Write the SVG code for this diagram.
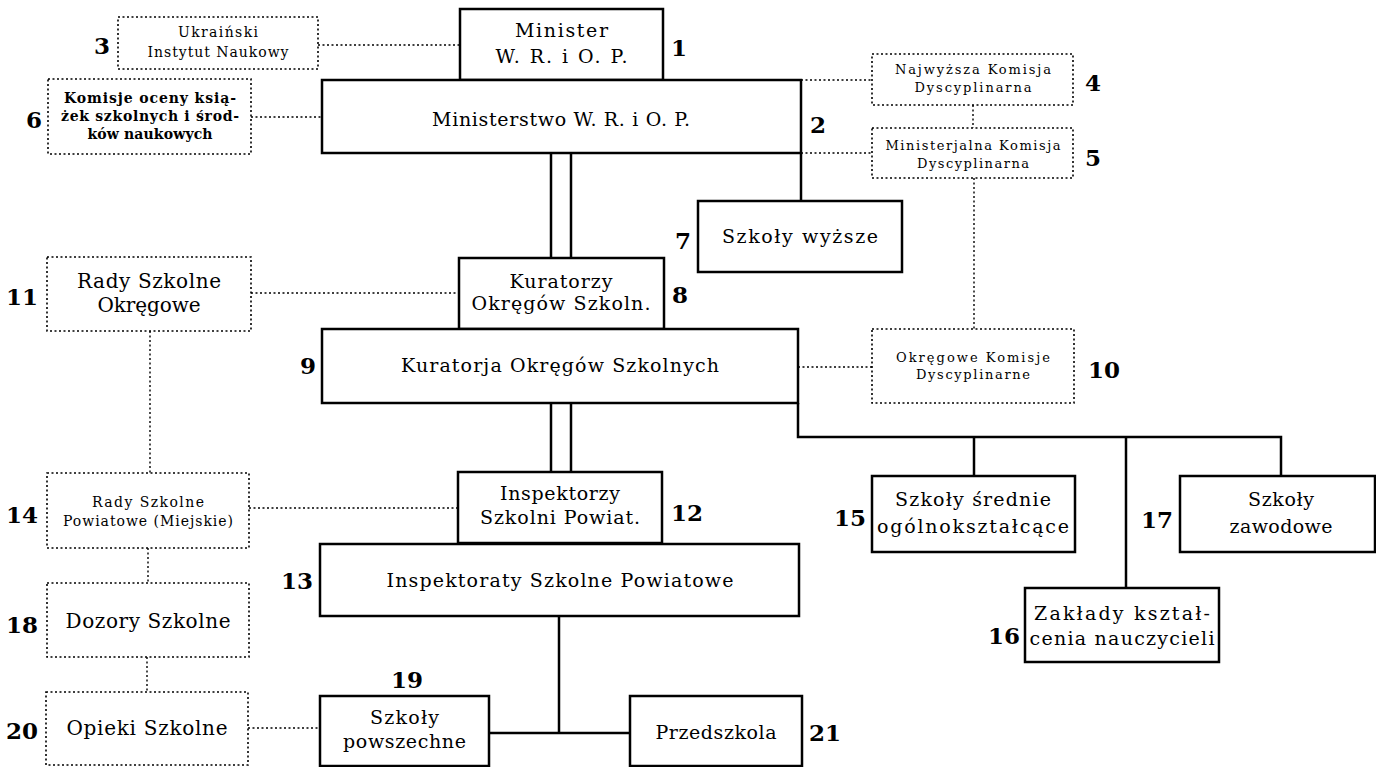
<svg xmlns="http://www.w3.org/2000/svg" width="1376" height="767" viewBox="0 0 1376 767">
<style>
.box{fill:#fff;stroke:#000;stroke-width:2.5}
.dbox{fill:#fff;stroke:#000;stroke-width:1.6;stroke-dasharray:2 2.5}
.ln{stroke:#000;stroke-width:2.5;fill:none}
.dl{stroke:#000;stroke-width:1.4;stroke-dasharray:2 2.5;fill:none}
text{font-family:"DejaVu Serif","Liberation Serif",serif;fill:#000;text-anchor:middle}
.t{font-size:19px}
.m{font-size:20px}
.s{font-size:14px}
.xs{font-size:13px}
.b{font-weight:bold}
.num{font-size:23px;font-weight:bold}
.l{text-anchor:end}
.r{text-anchor:start}
</style>
<rect width="1376" height="767" fill="#fff"/>
<g id="connectors">
<line class="ln" x1="551" y1="153" x2="551" y2="258"/>
<line class="ln" x1="571" y1="153" x2="571" y2="258"/>
<line class="ln" x1="551" y1="403" x2="551" y2="472"/>
<line class="ln" x1="571" y1="403" x2="571" y2="472"/>
<line class="ln" x1="801" y1="153" x2="801" y2="201"/>
<polyline class="ln" points="798,403 798,437 1281,437 1281,476"/>
<line class="ln" x1="974" y1="437" x2="974" y2="476"/>
<line class="ln" x1="1126" y1="437" x2="1126" y2="588"/>
<line class="ln" x1="559" y1="616" x2="559" y2="733"/>
<line class="ln" x1="489" y1="733" x2="630" y2="733"/>
<line class="dl" x1="318" y1="45" x2="460" y2="45"/>
<line class="dl" x1="251" y1="117" x2="322" y2="117"/>
<line class="dl" x1="801" y1="80" x2="872" y2="80"/>
<line class="dl" x1="801" y1="153" x2="872" y2="153"/>
<line class="dl" x1="973" y1="105" x2="973" y2="128"/>
<line class="dl" x1="974" y1="178" x2="974" y2="329"/>
<line class="dl" x1="798" y1="367" x2="872" y2="367"/>
<line class="dl" x1="251" y1="293" x2="459" y2="293"/>
<line class="dl" x1="150" y1="331" x2="150" y2="473"/>
<line class="dl" x1="249" y1="508" x2="458" y2="508"/>
<line class="dl" x1="148" y1="548" x2="148" y2="583"/>
<line class="dl" x1="147" y1="657" x2="147" y2="692"/>
<line class="dl" x1="248" y1="728" x2="320" y2="728"/>
</g>
<g id="n1">
<rect class="box" x="460" y="9" width="203" height="71"/>
<text class="t" x="561.5" y="37" textLength="93" lengthAdjust="spacing">Minister</text>
<text class="t" x="561.5" y="63" textLength="132" lengthAdjust="spacing">W. R. i O. P.</text>
<text class="num r" x="671" y="56">1</text>
</g>
<g id="n2">
<rect class="box" x="322" y="80" width="479" height="73"/>
<text class="t" x="561" y="126" textLength="258" lengthAdjust="spacing">Ministerstwo W. R. i O. P.</text>
<text class="num r" x="810" y="133">2</text>
</g>
<g id="n3">
<rect class="dbox" x="118" y="17" width="200" height="52"/>
<text class="s" x="218" y="37" textLength="80" lengthAdjust="spacing">Ukraiński</text>
<text class="s" x="218" y="57" textLength="141" lengthAdjust="spacing">Instytut Naukowy</text>
<text class="num l" x="110" y="54">3</text>
</g>
<g id="n4">
<rect class="dbox" x="872" y="54" width="201" height="51"/>
<text class="xs" x="973" y="74" textLength="156" lengthAdjust="spacing">Najwyższa Komisja</text>
<text class="xs" x="973" y="92" textLength="117" lengthAdjust="spacing">Dyscyplinarna</text>
<text class="num r" x="1085" y="91">4</text>
</g>
<g id="n5">
<rect class="dbox" x="872" y="128" width="201" height="50"/>
<text class="xs" x="973" y="150" textLength="175" lengthAdjust="spacing">Ministerjalna Komisja</text>
<text class="xs" x="973" y="168" textLength="112" lengthAdjust="spacing">Dyscyplinarna</text>
<text class="num r" x="1085" y="166">5</text>
</g>
<g id="n6">
<rect class="dbox" x="48" y="79" width="203" height="75"/>
<text class="s b" x="150" y="103" textLength="172" lengthAdjust="spacing">Komisje oceny ksią-</text>
<text class="s b" x="150" y="121" textLength="178" lengthAdjust="spacing">żek szkolnych i środ-</text>
<text class="s b" x="150" y="139" textLength="125" lengthAdjust="spacing">ków naukowych</text>
<text class="num l" x="42" y="128">6</text>
</g>
<g id="n7">
<rect class="box" x="698" y="201" width="204" height="71"/>
<text class="t" x="800" y="243" textLength="156" lengthAdjust="spacing">Szkoły wyższe</text>
<text class="num l" x="691" y="249">7</text>
</g>
<g id="n8">
<rect class="box" x="459" y="258" width="205" height="71"/>
<text class="t" x="561" y="288" textLength="103" lengthAdjust="spacing">Kuratorzy</text>
<text class="t" x="561" y="310" textLength="179" lengthAdjust="spacing">Okręgów Szkoln.</text>
<text class="num r" x="672" y="303">8</text>
</g>
<g id="n9">
<rect class="box" x="322" y="329" width="476" height="74"/>
<text class="t" x="560" y="372" textLength="318" lengthAdjust="spacing">Kuratorja Okręgów Szkolnych</text>
<text class="num l" x="316" y="374">9</text>
</g>
<g id="n10">
<rect class="dbox" x="872" y="329" width="202" height="74"/>
<text class="xs" x="973" y="362" textLength="154" lengthAdjust="spacing">Okręgowe Komisje</text>
<text class="xs" x="973" y="379" textLength="114" lengthAdjust="spacing">Dyscyplinarne</text>
<text class="num r" x="1088" y="378">10</text>
</g>
<g id="n11">
<rect class="dbox" x="47" y="257" width="204" height="74"/>
<text class="m" x="149" y="288" textLength="144" lengthAdjust="spacing">Rady Szkolne</text>
<text class="m" x="149" y="312" textLength="103" lengthAdjust="spacing">Okręgowe</text>
<text class="num l" x="38" y="305">11</text>
</g>
<g id="n12">
<rect class="box" x="458" y="472" width="204" height="71"/>
<text class="t" x="560" y="500" textLength="120" lengthAdjust="spacing">Inspektorzy</text>
<text class="t" x="560" y="524" textLength="160" lengthAdjust="spacing">Szkolni Powiat.</text>
<text class="num r" x="671" y="521">12</text>
</g>
<g id="n13">
<rect class="box" x="320" y="544" width="479" height="72"/>
<text class="t" x="560" y="587" textLength="347" lengthAdjust="spacing">Inspektoraty Szkolne Powiatowe</text>
<text class="num l" x="313" y="589">13</text>
</g>
<g id="n14">
<rect class="dbox" x="47" y="473" width="202" height="75"/>
<text class="s" x="148" y="507" textLength="112" lengthAdjust="spacing">Rady Szkolne</text>
<text class="s" x="148" y="526" textLength="170" lengthAdjust="spacing">Powiatowe (Miejskie)</text>
<text class="num l" x="38" y="523">14</text>
</g>
<g id="n15">
<rect class="box" x="872" y="476" width="203" height="76"/>
<text class="t" x="973" y="506" textLength="156" lengthAdjust="spacing">Szkoły średnie</text>
<text class="t" x="973" y="533" textLength="192" lengthAdjust="spacing">ogólnokształcące</text>
<text class="num l" x="866" y="526">15</text>
</g>
<g id="n16">
<rect class="box" x="1025" y="588" width="194" height="74"/>
<text class="t" x="1122" y="620" textLength="176" lengthAdjust="spacing">Zakłady kształ-</text>
<text class="t" x="1122" y="645" textLength="185" lengthAdjust="spacing">cenia nauczycieli</text>
<text class="num l" x="1020" y="644">16</text>
</g>
<g id="n17">
<rect class="box" x="1180" y="476" width="195" height="76"/>
<text class="t" x="1281" y="506" textLength="66" lengthAdjust="spacing">Szkoły</text>
<text class="t" x="1281" y="533" textLength="103" lengthAdjust="spacing">zawodowe</text>
<text class="num l" x="1173" y="528">17</text>
</g>
<g id="n18">
<rect class="dbox" x="47" y="583" width="202" height="74"/>
<text class="m" x="148" y="628" textLength="165" lengthAdjust="spacing">Dozory Szkolne</text>
<text class="num l" x="38" y="633">18</text>
</g>
<g id="n19">
<rect class="box" x="320" y="696" width="169" height="70"/>
<text class="t" x="404.5" y="724" textLength="69" lengthAdjust="spacing">Szkoły</text>
<text class="t" x="404.5" y="748" textLength="123" lengthAdjust="spacing">powszechne</text>
<text class="num" x="407" y="688">19</text>
</g>
<g id="n20">
<rect class="dbox" x="46" y="692" width="202" height="73"/>
<text class="m" x="147" y="735" textLength="161" lengthAdjust="spacing">Opieki Szkolne</text>
<text class="num l" x="38" y="739">20</text>
</g>
<g id="n21">
<rect class="box" x="630" y="696" width="172" height="70"/>
<text class="t" x="716" y="739" textLength="121" lengthAdjust="spacing">Przedszkola</text>
<text class="num r" x="809" y="741">21</text>
</g>
</svg>
